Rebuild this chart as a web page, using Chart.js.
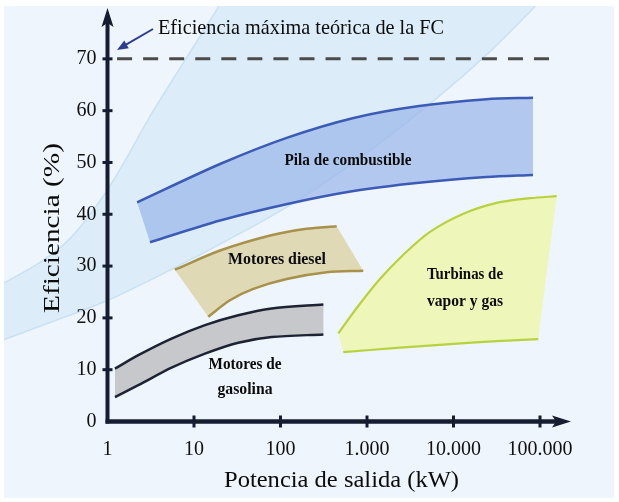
<!DOCTYPE html>
<html><head><meta charset="utf-8">
<script src="https://cdn.jsdelivr.net/npm/chart.js@4.4.1/dist/chart.umd.min.js"></script>
<style>html,body{margin:0;padding:0;background:#fff;overflow:hidden}canvas{display:block}</style>
</head><body>
<canvas id="c" width="619" height="502"></canvas>
<script>
// ---- Data (x: potencia kW, y: eficiencia %) ----
const xTickValues = [1, 10, 100, 1000, 10000, 100000];
const xTickLabels = ['1', '10', '100', '1.000', '10.000', '100.000'];
const yTickValues = [0, 10, 20, 30, 40, 50, 60, 70];

const fcMaxEfficiency = 70;
const fcMaxX = [1.29, 130600];

const pilaUpperX = [2.2, 20, 120, 700, 4000, 24000, 83000];
const pilaUpperY = [42.3, 49.7, 54.8, 58.6, 60.9, 62.2, 62.5];
const pilaLowerX = [3.1, 20, 120, 700, 4000, 24000, 83000];
const pilaLowerY = [34.6, 38.8, 42.0, 44.5, 46.1, 47.2, 47.6];

const dieselUpperX = [6.0, 20, 76, 200, 446];
const dieselUpperY = [29.3, 33.0, 35.9, 37.2, 37.7];
const dieselLowerX = [14.6, 26, 48.5, 118, 342, 906];
const dieselLowerY = [20.2, 23.4, 25.6, 27.5, 28.8, 29.1];

const gasUpperX = [1.22, 2.27, 5.5, 13.4, 32.5, 79, 313];
const gasUpperY = [10.2, 12.8, 16.0, 18.6, 20.5, 21.8, 22.6];
const gasLowerX = [1.22, 2.27, 5.5, 13.4, 32.5, 79, 313];
const gasLowerY = [4.7, 7.0, 10.4, 13.1, 15.2, 16.3, 16.8];

const turbUpperX = [466, 760, 1410, 2630, 5350, 13000, 31600, 76600, 156000];
const turbUpperY = [17.0, 21.9, 27.5, 32.2, 36.6, 40.1, 42.2, 43.1, 43.5];
const turbLowerX = [532, 2200, 8340, 31600, 95500];
const turbLowerY = [13.4, 14.2, 14.9, 15.5, 15.9];

// light background band (theoretical limits)
const bgUpperX = [0.057, 0.166, 0.368, 0.82, 1.59, 3.1, 6.9, 11.7, 21.1];
const bgUpperY = [26.3, 30.7, 35.3, 42.6, 50.3, 58.9, 68.2, 74.3, 81.1];
const bgLowerX = [0.057, 0.216, 1.01, 6.36, 34, 155, 830, 5790, 26400, 100000];
const bgLowerY = [15.5, 19.1, 23.4, 29.9, 36.3, 42.6, 50.9, 61.8, 71.4, 81.1];

const XMAX = 194500;
const YMAX = 76.92;
const SERIF = '"Liberation Serif", "Times New Roman", serif';
const TENSION = 0.3;

function pts(xs, ys) { return xs.map((x, i) => ({x: x, y: ys[i]})); }
// closed outline: upper edge, right end, lower edge reversed; corners doubled so the
// curved edges of the fill follow exactly the same spline as the stroked edges
function polygon(ux, uy, lx, ly) {
  const p = pts(ux, uy);
  const n = ux.length - 1, m = lx.length - 1;
  p.push({x: ux[n], y: uy[n]});
  p.push({x: lx[m], y: ly[m]});
  for (let i = m; i >= 0; i--) p.push({x: lx[i], y: ly[i]});
  return p;
}

const bands = [
  {ux: pilaUpperX, uy: pilaUpperY, lx: pilaLowerX, ly: pilaLowerY, fill: 'rgba(156,184,233,0.74)', edge: '#3B5BB6', w: 2.5},
  {ux: dieselUpperX, uy: dieselUpperY, lx: dieselLowerX, ly: dieselLowerY, fill: '#DFD9B6', edge: '#A8924A', w: 2.5},
  {ux: gasUpperX, uy: gasUpperY, lx: gasLowerX, ly: gasLowerY, fill: '#C6C8CB', edge: '#1D2333', w: 2.5},
  {ux: turbUpperX, uy: turbUpperY, lx: turbLowerX, ly: turbLowerY, fill: '#EEF6BA', edge: '#B7D23E', w: 2.2}
];

const datasets = [];
bands.forEach(b => {
  datasets.push({data: polygon(b.ux, b.uy, b.lx, b.ly), fill: 'shape', backgroundColor: b.fill,
    borderWidth: 0, borderColor: 'rgba(0,0,0,0)', pointRadius: 0, tension: TENSION, order: 2});
  datasets.push({data: pts(b.ux, b.uy), fill: false, borderColor: b.edge, borderWidth: b.w,
    pointRadius: 0, tension: TENSION, order: 1});
  datasets.push({data: pts(b.lx, b.ly), fill: false, borderColor: b.edge, borderWidth: b.w,
    pointRadius: 0, tension: TENSION, order: 1});
});
datasets.push({data: fcMaxX.map(x => ({x: x, y: fcMaxEfficiency})), fill: false, borderColor: '#4B4B4B',
  borderWidth: 3, borderDash: [15, 11.06], pointRadius: 0, order: 0});

function smoothPath(ctx, p, move) {
  if (move) ctx.moveTo(p[0][0], p[0][1]); else ctx.lineTo(p[0][0], p[0][1]);
  for (let i = 0; i < p.length - 1; i++) {
    const p0 = p[i - 1] || p[i], p1 = p[i], p2 = p[i + 1], p3 = p[i + 2] || p2;
    ctx.bezierCurveTo(p1[0] + (p2[0] - p0[0]) / 6, p1[1] + (p2[1] - p0[1]) / 6,
                      p2[0] - (p3[0] - p1[0]) / 6, p2[1] - (p3[1] - p1[1]) / 6, p2[0], p2[1]);
  }
}
function fitText(ctx, text, cx, cy, font, width, rot) {
  ctx.save();
  ctx.font = font;
  const w = ctx.measureText(text).width;
  ctx.translate(cx, cy);
  if (rot) ctx.rotate(-Math.PI / 2);
  ctx.scale(width / w, 1);
  ctx.textAlign = 'center';
  ctx.textBaseline = 'middle';
  ctx.fillStyle = '#0B0B0B';
  ctx.fillText(text, 0, 0);
  ctx.restore();
}

const deco = {
  id: 'deco',
  beforeDraw(chart) {
    const ctx = chart.ctx, xs = chart.scales.x, ys = chart.scales.y;
    ctx.save();
    ctx.fillStyle = '#FFFFFF'; ctx.fillRect(0, 0, 619, 502);
    ctx.fillStyle = '#EEF5FC'; ctx.fillRect(4, 6, 610, 492);
    ctx.beginPath(); ctx.rect(4, 6, 610, 492); ctx.clip();
    const up = bgUpperX.map((x, i) => [xs.getPixelForValue(x), ys.getPixelForValue(bgUpperY[i])]);
    const lo = bgLowerX.map((x, i) => [xs.getPixelForValue(x), ys.getPixelForValue(bgLowerY[i])]);
    ctx.beginPath();
    smoothPath(ctx, up, true);
    smoothPath(ctx, lo.slice().reverse(), false);
    ctx.closePath();
    ctx.fillStyle = '#DCEDF9';
    ctx.fill();
    ctx.strokeStyle = '#C8E1F3'; ctx.lineWidth = 1.5;
    ctx.beginPath(); smoothPath(ctx, up, true); ctx.stroke();
    ctx.beginPath(); smoothPath(ctx, lo, true); ctx.stroke();
    ctx.restore();
  },
  afterDatasetsDraw(chart) {
    const ctx = chart.ctx, xs = chart.scales.x, ys = chart.scales.y;
    const x0 = xs.getPixelForValue(xTickValues[0]);
    const y0 = ys.getPixelForValue(yTickValues[0]);
    const axisCol = '#161D30';
    ctx.save();
    ctx.strokeStyle = axisCol; ctx.fillStyle = axisCol;
    // y axis
    ctx.lineWidth = 4;
    ctx.beginPath(); ctx.moveTo(x0, y0 + 2); ctx.lineTo(x0, 22); ctx.stroke();
    ctx.beginPath(); ctx.moveTo(x0, 8); ctx.lineTo(x0 + 6, 27); ctx.lineTo(x0, 23); ctx.lineTo(x0 - 6, 27); ctx.closePath(); ctx.fill();
    // x axis
    ctx.lineWidth = 4.5;
    ctx.beginPath(); ctx.moveTo(x0 - 2, y0); ctx.lineTo(556, y0); ctx.stroke();
    ctx.beginPath(); ctx.moveTo(571, y0); ctx.lineTo(552, y0 - 6); ctx.lineTo(556, y0); ctx.lineTo(552, y0 + 6); ctx.closePath(); ctx.fill();
    // tick crossbars
    ctx.lineWidth = 3;
    yTickValues.slice(1).forEach(v => {
      const y = ys.getPixelForValue(v);
      ctx.beginPath(); ctx.moveTo(x0 - 5, y); ctx.lineTo(x0 + 5, y); ctx.stroke();
    });
    xTickValues.slice(1).forEach(v => {
      const x = xs.getPixelForValue(v);
      ctx.beginPath(); ctx.moveTo(x, y0 - 6); ctx.lineTo(x, y0 + 6); ctx.stroke();
    });
    // annotation arrow
    ctx.strokeStyle = '#2C3D8F'; ctx.fillStyle = '#2C3D8F'; ctx.lineWidth = 2;
    const ax1 = 153, ay1 = 29, ax2 = 117, ay2 = 50;
    const ang = Math.atan2(ay2 - ay1, ax2 - ax1);
    ctx.beginPath(); ctx.moveTo(ax1, ay1); ctx.lineTo(ax2 - 6 * Math.cos(ang), ay2 - 6 * Math.sin(ang)); ctx.stroke();
    ctx.beginPath();
    ctx.moveTo(ax2, ay2);
    ctx.lineTo(ax2 - 11 * Math.cos(ang) + 4.5 * Math.sin(ang), ay2 - 11 * Math.sin(ang) - 4.5 * Math.cos(ang));
    ctx.lineTo(ax2 - 11 * Math.cos(ang) - 4.5 * Math.sin(ang), ay2 - 11 * Math.sin(ang) + 4.5 * Math.cos(ang));
    ctx.closePath(); ctx.fill();
    ctx.restore();

    fitText(ctx, 'Eficiencia máxima teórica de la FC', 301, 28, '21px ' + SERIF, 286);
    fitText(ctx, 'Potencia de salida (kW)', 341.5, 481, '24px ' + SERIF, 235);
    fitText(ctx, 'Eficiencia (%)', 53, 228, '23px ' + SERIF, 170, true);
    const bf = 'bold 16px ' + SERIF;
    fitText(ctx, 'Pila de combustible', 348, 161, bf, 127);
    fitText(ctx, 'Motores diesel', 277, 260, bf, 98);
    fitText(ctx, 'Turbinas de', 465, 275, bf, 76);
    fitText(ctx, 'vapor y gas', 465, 302, bf, 76);
    fitText(ctx, 'Motores de', 245, 365, bf, 73);
    fitText(ctx, 'gasolina', 245, 390, bf, 55);
  }
};

new Chart(document.getElementById('c'), {
  type: 'line',
  data: {datasets: datasets},
  plugins: [deco],
  options: {
    responsive: false, animation: false, devicePixelRatio: 1, events: [],
    layout: {padding: {top: 21.5, right: 54, bottom: 0, left: 0}},
    plugins: {legend: {display: false}, tooltip: {enabled: false}},
    scales: {
      x: {
        type: 'logarithmic', min: 1, max: XMAX,
        border: {display: false}, grid: {display: false, drawTicks: false},
        afterBuildTicks: s => { s.ticks = xTickValues.map(v => ({value: v})); },
        afterFit: s => { s.height = 80.5; },
        ticks: {autoSkip: false, maxRotation: 0, minRotation: 0, padding: 16, color: '#111',
          font: {family: SERIF, size: 20}, callback: (v, i) => xTickLabels[i]}
      },
      y: {
        type: 'linear', min: 0, max: YMAX,
        border: {display: false}, grid: {display: false, drawTicks: false},
        afterBuildTicks: s => { s.ticks = yTickValues.map(v => ({value: v})); },
        afterFit: s => { s.width = 107.5; },
        ticks: {padding: 11, color: '#111', font: {family: SERIF, size: 20}}
      }
    }
  }
});
</script>
</body></html>
